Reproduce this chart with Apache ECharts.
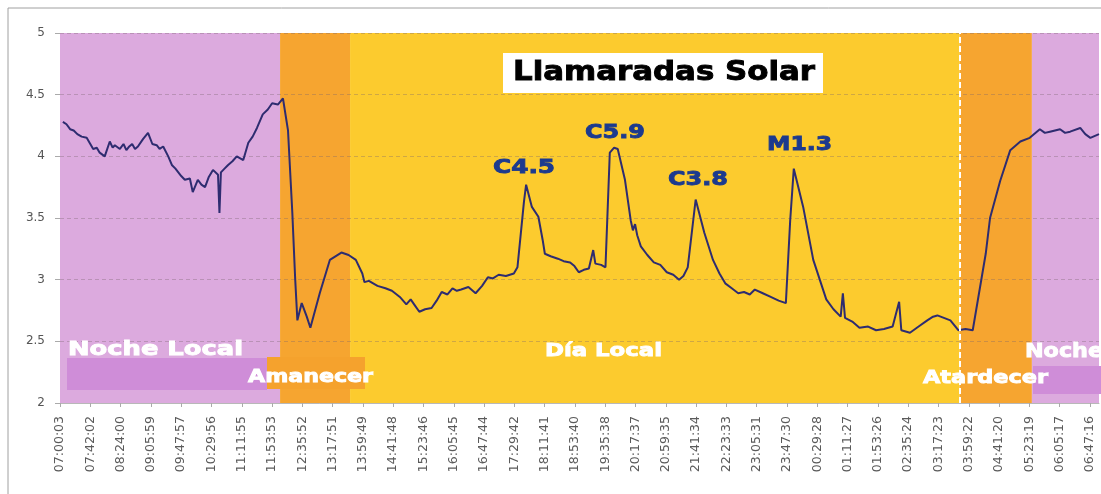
<!DOCTYPE html>
<html><head><meta charset="utf-8">
<script src="https://cdn.jsdelivr.net/npm/echarts@6/dist/echarts.min.js"></script>
<style>html,body{margin:0;padding:0;background:#fff}#c{width:1101px;height:494px}</style>
</head><body><div id="c"></div><script>
// ---------- data ----------
const TICK_LABELS = ['07:00:03','07:42:02','08:24:00','09:05:59','09:47:57','10:29:56','11:11:55','11:53:53','12:35:52','13:17:51','13:59:49','14:41:48','15:23:46','16:05:45','16:47:44','17:29:42','18:11:41','18:53:40','19:35:38','20:17:37','20:59:35','21:41:34','22:23:33','23:05:31','23:47:30','00:29:28','01:11:27','01:53:26','02:35:24','03:17:23','03:59:22','04:41:20','05:23:19','06:05:17','06:47:16'];
const TICK_STEP_SEC = 2519;      // 41:59 between labels
const SPAN_MIN = 1440;           // 24 h shown
// minutes after 07:00:03
const TIME_MIN = [4,9,14,19,24,30,37,42,46,51,55,62,69,73,76,83,88,92,96,100,104,108,115,122,128,134,138,143,150,155,160,164,168,173,180,184,191,196,201,206,212,219,221,223,228,233,239,245,254,261,267,273,281,288,294,302,309,316,322,326,329,335,342,347,360,374,390,400,410,419,422,428,434,440,451,460,471,480,486,492,498,506,515,522,529,537,544,550,556,566,576,585,593,600,608,618,629,634,643,646,654,663,669,672,680,690,698,707,713,719,726,733,739,742,750,756,762,768,773,783,791,794,797,800,805,814,823,832,841,850,858,864,870,881,893,905,914,922,931,940,948,956,963,974,985,996,1006,1012,1017,1030,1044,1062,1072,1082,1085,1088,1098,1108,1120,1131,1142,1154,1163,1166,1178,1190,1202,1210,1216,1225,1234,1245,1255,1265,1283,1289,1303,1317,1331,1344,1358,1365,1372,1386,1393,1400,1414,1421,1428,1440];
const FLUX = [4.28,4.26,4.22,4.21,4.18,4.16,4.15,4.10,4.06,4.07,4.03,4.00,4.12,4.07,4.09,4.06,4.10,4.05,4.08,4.10,4.06,4.08,4.14,4.19,4.10,4.09,4.06,4.08,4.00,3.93,3.90,3.87,3.84,3.81,3.82,3.71,3.81,3.77,3.75,3.83,3.89,3.85,3.54,3.87,3.90,3.93,3.96,4.00,3.97,4.11,4.16,4.23,4.34,4.38,4.43,4.42,4.47,4.21,3.54,3.00,2.67,2.81,2.70,2.61,2.89,3.16,3.22,3.20,3.16,3.05,2.98,2.99,2.97,2.95,2.93,2.91,2.86,2.80,2.84,2.79,2.74,2.76,2.77,2.83,2.90,2.88,2.93,2.91,2.92,2.94,2.89,2.95,3.02,3.01,3.04,3.03,3.05,3.10,3.63,3.77,3.59,3.51,3.32,3.21,3.19,3.17,3.15,3.14,3.11,3.06,3.08,3.09,3.24,3.13,3.12,3.10,4.03,4.07,4.06,3.81,3.48,3.40,3.45,3.36,3.27,3.20,3.14,3.12,3.06,3.04,3.00,3.03,3.10,3.65,3.38,3.16,3.05,2.97,2.93,2.89,2.90,2.88,2.92,2.89,2.86,2.83,2.81,3.48,3.90,3.59,3.16,2.84,2.76,2.70,2.89,2.69,2.66,2.61,2.62,2.59,2.60,2.62,2.82,2.59,2.57,2.62,2.67,2.70,2.71,2.69,2.67,2.59,2.60,2.59,3.21,3.50,3.80,4.05,4.12,4.15,4.22,4.19,4.20,4.22,4.19,4.20,4.23,4.18,4.15,4.18];
const BAND_NAMES = ['Noche Local','Amanecer','Día Local','Atardecer','Noche'];
const BAND_START_MIN = [0,305,402,1247,1347];
const BAND_END_MIN = [305,402,1247,1347,1440];
const FLARE_NAMES = ['C4.5','C5.9','C3.8','M1.3'];
const TITLE = 'Llamaradas Solar';

// ---------- styles ----------
const BAND_FILL = ['#dcaade','#f6a530','#fccb2e','#f6a530','#dcaade'];
const chart = echarts.init(document.getElementById('c'));

chart.setOption({
  animation:false,
  backgroundColor:'#ffffff',
  grid:{left:60, top:33, right:2, bottom:91},
  xAxis:{
    type:'value', min:0, max:SPAN_MIN*60, interval:TICK_STEP_SEC,
    axisLine:{show:true, lineStyle:{color:'#b8b8b8'}},
    axisTick:{show:true, length:4, lineStyle:{color:'#aaa'}},
    splitLine:{show:false},
    axisLabel:{rotate:90, margin:13, fontFamily:'DejaVu Sans', fontSize:12.5, color:'#5a5a5a',
      showMaxLabel:false,
      formatter:v=>{const i=Math.round(v/TICK_STEP_SEC); return (Math.abs(v-i*TICK_STEP_SEC)<1 && i<TICK_LABELS.length)?TICK_LABELS[i]:'';}}
  },
  yAxis:{
    type:'value', min:2, max:5, interval:0.5,
    axisLine:{show:false},
    axisTick:{show:true, length:5, lineStyle:{color:'#aaa'}},
    splitLine:{show:true, lineStyle:{color:'rgba(120,100,110,0.35)', type:[4,3], width:1}},
    axisLabel:{margin:15, fontFamily:'DejaVu Sans', fontSize:12, color:'#555'}
  },
  series:[
    {
      type:'custom', z:-1, silent:true, clip:true,
      data: BAND_NAMES.map((n,i)=>[BAND_START_MIN[i]*60, BAND_END_MIN[i]*60, 2, 5, i]),
      encode:{x:[0,1], y:[2,3]},
      renderItem:(params, api)=>{
        const p0 = api.coord([api.value(0), api.value(3)]);
        const p1 = api.coord([api.value(1), api.value(2)]);
        return {type:'rect', shape:{x:p0[0], y:p0[1], width:p1[0]-p0[0], height:p1[1]-p0[1]},
                style:{fill:BAND_FILL[api.value(4)]}};
      }
    },
    {
      type:'line', z:3, symbol:'none', smooth:false,
      data: TIME_MIN.map((t,i)=>[t*60, FLUX[i]]),
      lineStyle:{color:'#2e2c70', width:2},
      markLine:{silent:true, symbol:'none', label:{show:false},
        lineStyle:{color:'#ffffff', width:2, type:[6,3]},
        data:[{xAxis:BAND_START_MIN[3]*60}]}
    }
  ]
});

// ---------- annotations (stretched heavy text) ----------
const mctx = document.createElement('canvas').getContext('2d');
function stretched(text, left, midY, width, size, color){
  const font = 'bold '+size+'px "DejaVu Sans"';
  mctx.font = font;
  const w = mctx.measureText(text).width;
  return {type:'text', x:left, y:midY, scaleX:width/w, z:100,
    style:{text:text, font:font, fill:color, stroke:color, lineWidth:0.9, textAlign:'left', textVerticalAlign:'middle'}};
}
const g = [];
g.push({type:'rect', z:0, shape:{x:8, y:8, width:1300, height:700}, style:{fill:null, stroke:'#a0a0a0', lineWidth:1}});
// bottom label bars
g.push({type:'rect', z:90, shape:{x:67, y:358, width:200, height:32}, style:{fill:'#cf8dd8'}});
g.push({type:'rect', z:90, shape:{x:267, y:357, width:98, height:32}, style:{fill:'#f5a22d'}});
g.push({type:'rect', z:90, shape:{x:1033, y:366, width:80, height:28}, style:{fill:'#cf8dd8'}});
g.push(stretched(BAND_NAMES[0], 68, 350, 175, 19, '#ffffff'));
g.push(stretched(BAND_NAMES[1], 248, 377, 125, 18, '#ffffff'));
g.push(stretched(BAND_NAMES[2], 545, 351, 117, 18, '#ffffff'));
g.push(stretched(BAND_NAMES[3], 923, 378, 125, 18, '#ffffff'));
g.push(stretched(BAND_NAMES[4], 1025, 352, 78, 19, '#ffffff'));
// title
g.push({type:'rect', z:95, shape:{x:503, y:53, width:320, height:40}, style:{fill:'#ffffff'}});
g.push(stretched(TITLE, 513, 73, 302, 27, '#000000'));
// flare labels
const flarePos = [[493,168,62],[585,133,60],[668,180,60],[767,145,65]];
FLARE_NAMES.forEach((n,i)=>g.push(stretched(n, flarePos[i][0], flarePos[i][1], flarePos[i][2], 20, '#1c3a8e')));
chart.setOption({graphic:{elements:g}});
</script></body></html>
